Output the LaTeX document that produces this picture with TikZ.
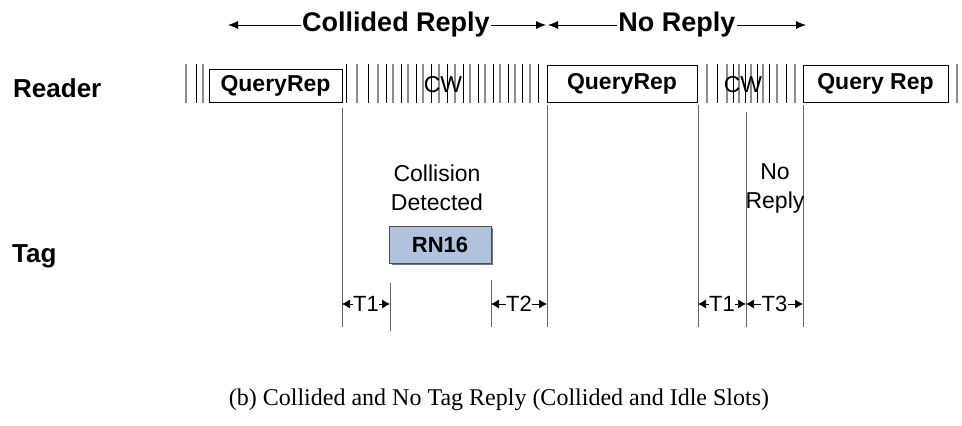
\documentclass[tikz,border=0pt]{standalone}
\usepackage{fontspec}
\setmainfont{Liberation Sans}
\newfontfamily\capfont{Liberation Serif}
\usetikzlibrary{arrows.meta}
\begin{document}
\begin{tikzpicture}[x=1pt,y=-1pt,
  hashk/.style={line width=0.9pt, black},
  hashg/.style={line width=1.4pt, black!45},
  qbox/.style={draw, line width=0.8pt, inner sep=0pt, font=\fontsize{23}{27}\selectfont\bfseries},
  vline/.style={line width=0.8pt, black!60},
  plain/.style={font=\fontsize{23}{27}\selectfont, align=center, inner sep=0pt},
  big/.style={font=\fontsize{26}{30}\selectfont\bfseries, inner sep=0pt},
  tarr/.style={{Latex[length=8pt,width=9pt]}-{Latex[length=8pt,width=9pt]}, line width=0.7pt},
  tlab/.style={fill=white, inner sep=0.3pt, font=\fontsize{22}{24}\selectfont},
  toparr/.style={-{Latex[length=10pt,width=8pt]}, line width=0.8pt},
  toplab/.style={fill=white, inner sep=1pt, font=\fontsize{27}{30}\selectfont\bfseries},
  rnbox/.style={draw=black!70, line width=0.9pt, fill=rnblue, inner sep=0pt, font=\fontsize{22}{26}\selectfont\bfseries}
]
\definecolor{rnblue}{HTML}{B0C2DC}
\useasboundingbox (0,0) rectangle (962,426);

% row labels
\node[big, anchor=base west] (reader) at (13,97) {Reader};
\node[big, anchor=base west] (tag) at (12,262) {Tag};

% hash marks of the reader's carrier wave
\foreach \x in {186,203,357,378,393,408,423,439,455,470,485,500,515,530,707,727,739,751,763,777,795,957}
  \draw[hashg] (\x,64) -- (\x,103);
\foreach \x in {196,346,368,386,401,416,431,447,463,478,493,508,522,538,717,733,745,757,769,786}
  \draw[hashk] (\x,64) -- (\x,103);

% reader commands
\node[qbox, fill=white, minimum width=133pt, minimum height=33pt] (q1) at (275.5,85.5) {QueryRep};
\node[qbox, fill=white, minimum width=150pt, minimum height=37pt] (q2) at (622,83.5) {QueryRep};
\node[qbox, fill=white, minimum width=145pt, minimum height=37pt] (q3) at (875.5,83.5) {Query Rep};
\node[plain] (cw1) at (443,85) {CW};
\node[plain] (cw2) at (743,85) {CW};

% timing lines
\coordinate (v1t) at (342,108); \coordinate (v1b) at (342,327);
\coordinate (v2t) at (547,105); \coordinate (v2b) at (547,327);
\coordinate (v3t) at (698,105); \coordinate (v3b) at (698,327);
\coordinate (v4t) at (746,112); \coordinate (v4b) at (746,327);
\coordinate (v5t) at (803,105); \coordinate (v5b) at (803,327);
\coordinate (s1t) at (390,283); \coordinate (s1b) at (390,331);
\coordinate (s2t) at (491,280); \coordinate (s2b) at (491,327);
\foreach \v in {v1,v2,v3,v4,v5,s1,s2}
  \draw[vline] (\v t) -- (\v b);

% tag side
\node[plain] (coll) at (437,188) {Collision\\[2pt]Detected};
\fill[black!55] (391.5,227.5) rectangle (492.5,264.5);
\node[rnbox, minimum width=102pt, minimum height=37pt] (rn) at (440,244.5) {RN16};
\node[plain] (norep) at (775,188) {No\\[2pt]Reply};

% durations
\coordinate (a1) at (342,304); \coordinate (a2) at (390,304);
\coordinate (a3) at (491,304); \coordinate (a4) at (547,304);
\coordinate (a5) at (698,304); \coordinate (a6) at (746,304);
\coordinate (a7) at (803,304);
\draw[tarr] (a1) -- (a2) node[midway, tlab] (t1) {T1};
\draw[tarr] (a3) -- (a4) node[midway, tlab] (t2) {T2};
\draw[tarr] (a5) -- (a6) node[midway, tlab] (t1b) {T1};
\draw[tarr] (a6) -- (a7) node[midway, tlab] (t3) {T3};

% slot spans
\node[toplab] (cr) at (396,25) {Collided Reply};
\node[toplab] (nr) at (677,25) {No Reply};
\coordinate (crL) at (228,25); \coordinate (crR) at (546,25);
\coordinate (nrL) at (548,25); \coordinate (nrR) at (806,25);
\draw[toparr] (cr.west) -- (crL);
\draw[toparr] (cr.east) -- (crR);
\draw[toparr] (nr.west) -- (nrL);
\draw[toparr] (nr.east) -- (nrR);

% caption
\node[font=\capfont\fontsize{24}{28}\selectfont, inner sep=0pt] (cap) at (499,400) {(b) Collided and No Tag Reply (Collided and Idle Slots)};
\end{tikzpicture}
\end{document}
